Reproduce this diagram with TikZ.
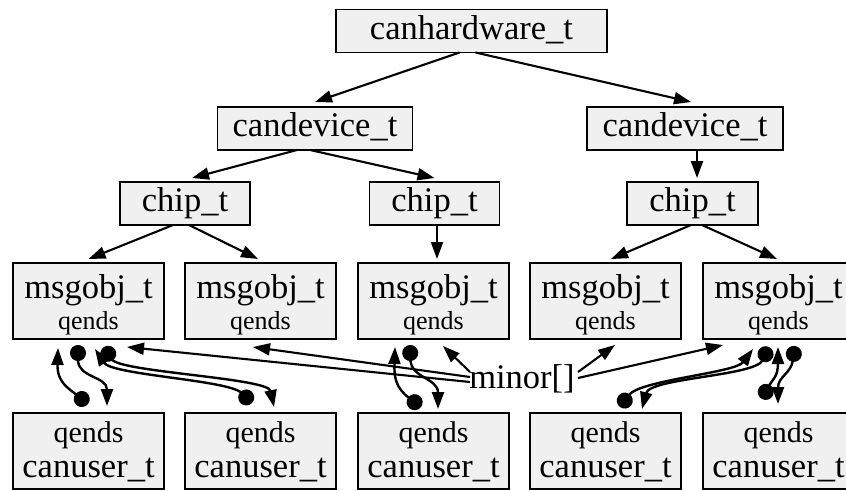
\documentclass[tikz,border=0pt]{standalone}
\usepackage{fontspec}
\setmainfont{Liberation Serif}
\usetikzlibrary{arrows.meta,calc}
\definecolor{boxfill}{RGB}{240,240,240}
\tikzset{
 box/.style={draw, line width=1.8pt, fill=boxfill, inner sep=0pt, outer sep=0pt, minimum height=43pt},
 big/.style={font=\fontsize{34.5}{36}\selectfont},
 mid/.style={font=\fontsize{30}{32}\selectfont},
 small/.style={font=\fontsize{26}{28}\selectfont},
 onel/.style={box, big, text height=24pt, text depth=8pt},
 edge/.style={line width=2.1pt, -{Triangle[length=17pt,width=12pt]}},
 dedge/.style={line width=2.4pt, {Circle[length=16pt]}-{Triangle[length=17pt,width=12pt]}},
 lbl/.style={anchor=base, inner sep=0pt}
}
\newcommand\MsgBox[2]{%
 \node[box, minimum width=151pt, minimum height=76pt] (#1) at (#2,301) {};
 \node[lbl,big] (#1a) at ($(#1.north)+(0,35)$) {msgobj\_t};
 \node[lbl,small] (#1b) at ($(#1.north)+(0,66)$) {qends};}
\newcommand\UserBox[2]{%
 \node[box, minimum width=151pt, minimum height=76pt] (#1) at (#2,451) {};
 \node[lbl,mid] (#1a) at ($(#1.north)+(0,29)$) {qends};
 \node[lbl,big] (#1b) at ($(#1.north)+(0,64)$) {canuser\_t};}
\begin{document}
\begin{tikzpicture}[x=1pt,y=-1pt]
\clip (0,0) rectangle (846,490);
% boxes
\node[onel, minimum width=271pt] (hw) at (471.5,31) {canhardware\_t};
\node[onel, minimum width=195pt] (devL) at (315,128.5) {candevice\_t};
\node[onel, minimum width=196pt] (devR) at (685,128.5) {candevice\_t};
\node[onel, minimum width=130pt] (chipL) at (185,203.5) {chip\_t};
\node[onel, minimum width=130pt] (chipM) at (434.5,203.5) {chip\_t};
\node[onel, minimum width=131pt] (chipR) at (692.5,203.5) {chip\_t};
\MsgBox{m1}{88.5}
\MsgBox{m2}{260.5}
\MsgBox{m3}{433.5}
\MsgBox{m4}{605.5}
\MsgBox{m5}{778.5}
\UserBox{u1}{88.5}
\UserBox{u2}{260.5}
\UserBox{u3}{433.5}
\UserBox{u4}{605.5}
\UserBox{u5}{778.5}
\node[big, inner sep=0pt, text height=24pt, text depth=8pt] (minor) at (522,380) {minor[]};
% tree edges
\draw[edge] ($(hw.south)+(-12,0)$) -- ($(devL.north)+(0,-5)$);
\draw[edge] ($(hw.south)+(4,0)$) -- ($(devR.north)+(6,-5)$);
\draw[edge] ($(devL.south)+(-18,0)$) -- ($(chipL.north)+(7,-4)$);
\draw[edge] ($(devL.south)+(-5,0)$) -- ($(chipM.north)+(0,-4)$);
\draw[edge] ($(devR.south)+(12,0)$) -- ($(chipR.north)+(4.5,-4)$);
\draw[edge] ($(chipL.south)+(-12,0)$) -- ($(m1.north)+(0,-4)$);
\draw[edge] ($(chipL.south)+(4,0)$) -- ($(m2.north)+(-2.5,-4)$);
\draw[edge] ($(chipM.south)+(2.5,0)$) -- ($(m3.north)+(3.5,-4)$);
\draw[edge] ($(chipR.south)+(-1.5,0)$) -- ($(m4.north)+(5.5,-4)$);
\draw[edge] ($(chipR.south)+(9.5,0)$) -- ($(m5.north)+(-1.5,-4)$);
% minor edges
\draw[edge] ($(minor.center)+(-52,2)$) -- ($(m1.south)+(38.5,8)$);
\draw[edge] ($(minor.center)+(-52,-3)$) -- ($(m2.south)+(-7.5,8)$);
\draw[edge] ($(minor.center)+(-52,-8)$) -- ($(m3.south)+(9.5,7)$);
\draw[edge] ($(minor.center)+(56,-8)$) -- ($(m4.south)+(9.5,6)$);
\draw[edge] ($(minor.center)+(56,-2)$) -- ($(m5.south)+(-55.5,6)$);
% qends curves
\draw[dedge] ($(u1.north)+(-0.5,-9)$) .. controls ($(u1.north)+(-20.5,-25)$) and ($(m1.south)+(-31.5,43)$) .. ($(m1.south)+(-30.5,9)$);
\draw[dedge] ($(m1.south)+(-10.5,6)$) .. controls ($(m1.south)+(-10.5,39)$) and ($(u1.north)+(18.5,-37)$) .. ($(u1.north)+(18.5,-7)$);
\draw[dedge] ($(u2.north)+(-8.5,-10)$) .. controls ($(u2.north)+(-32.5,-33)$) and ($(m1.south)+(23.5,36)$) .. ($(m1.south)+(6.5,10)$);
\draw[dedge] ($(m1.south)+(15.5,8)$) .. controls ($(m1.south)+(31.5,33)$) and ($(u2.north)+(7.5,-35)$) .. ($(u2.north)+(13.5,-6)$);
\draw[dedge] ($(u3.north)+(-12.5,-6)$) .. controls ($(u3.north)+(-37.5,-25)$) and ($(m3.south)+(-39.5,39)$) .. ($(m3.south)+(-38.5,8)$);
\draw[dedge] ($(m3.south)+(-23.5,6)$) .. controls ($(m3.south)+(-22.5,39)$) and ($(u3.north)+(4.5,-35)$) .. ($(u3.north)+(4.5,-4)$);
\draw[dedge] ($(u4.north)+(14.5,-6)$) .. controls ($(u4.north)+(34.5,-33)$) and ($(m5.south)+(-43.5,34)$) .. ($(m5.south)+(-25.5,10)$);
\draw[dedge] ($(m5.south)+(-9.5,8)$) .. controls ($(m5.south)+(-23.5,37)$) and ($(u4.north)+(44.5,-35)$) .. ($(u4.north)+(36.5,-4)$);
\draw[dedge] ($(u5.north)+(-16.5,-14)$) .. controls ($(u5.north)+(-6.5,-33)$) and ($(m5.south)+(-0.5,38)$) .. ($(m5.south)+(-0.5,8)$);
\draw[dedge] ($(m5.south)+(16.5,7)$) .. controls ($(m5.south)+(12.5,34)$) and ($(u5.north)+(-0.5,-36)$) .. ($(u5.north)+(-0.5,-9)$);
\end{tikzpicture}
\end{document}
